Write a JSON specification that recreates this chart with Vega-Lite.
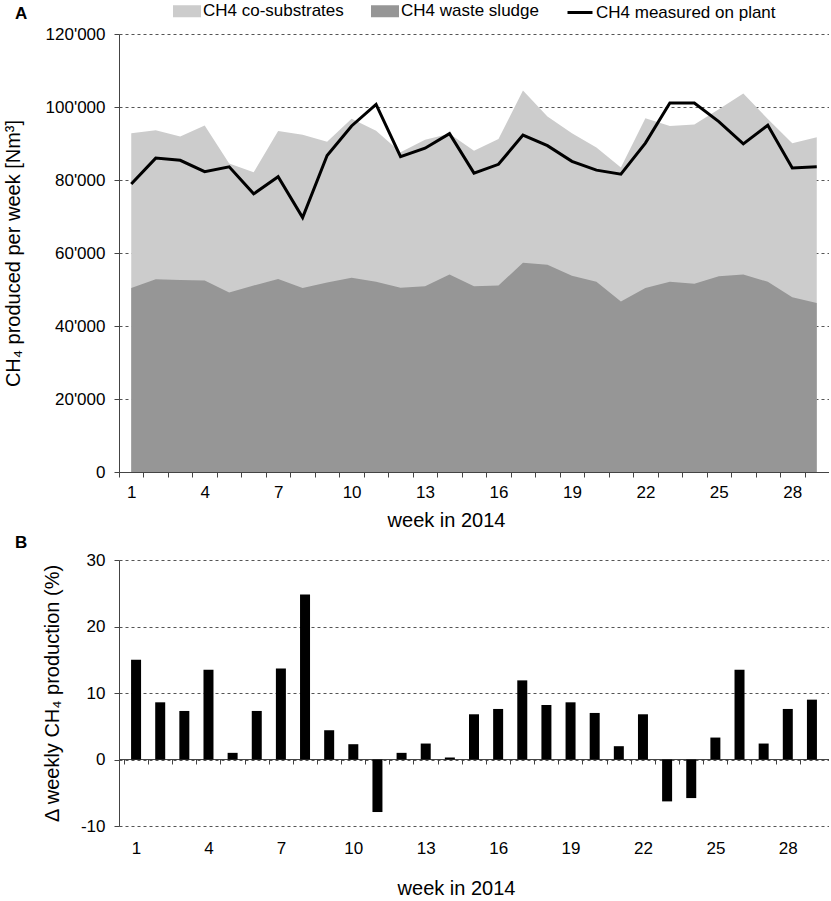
{
  "$schema": "https://vega.github.io/schema/vega-lite/v6.json",
  "padding": {"left": 3, "top": -3, "right": 0, "bottom": 0},
  "config": {
    "font": "Liberation Sans",
    "view": {"stroke": null},
    "axis": {
      "labelFont": "Liberation Sans",
      "titleFont": "Liberation Sans",
      "labelFontSize": 17,
      "titleFontSize": 20,
      "titleFontWeight": "normal",
      "labelColor": "#000",
      "titleColor": "#000",
      "domainColor": "#444",
      "tickColor": "#444",
      "tickSize": 5,
      "gridColor": "#555",
      "gridDash": [3, 3],
      "gridWidth": 1
    },
    "legend": {
      "orient": "none",
      "legendX": 54,
      "legendY": -37,
      "direction": "horizontal",
      "labelFont": "Liberation Sans",
      "labelFontSize": 17,
      "labelColor": "#000",
      "labelLimit": 400,
      "labelOffset": 2,
      "columnPadding": 22,
      "symbolSize": 625
    },
    "title": {"font": "Liberation Sans", "fontSize": 17, "fontWeight": "bold", "color": "#000"}
  },
  "data": {
    "values": [
      {"week": 1, "sludge": 50400, "total": 92800, "measured": 78900, "delta": 15.0},
      {"week": 2, "sludge": 52800, "total": 93600, "measured": 86000, "delta": 8.6},
      {"week": 3, "sludge": 52600, "total": 91900, "measured": 85400, "delta": 7.3},
      {"week": 4, "sludge": 52500, "total": 94900, "measured": 82300, "delta": 13.5},
      {"week": 5, "sludge": 49200, "total": 84500, "measured": 83600, "delta": 1.0},
      {"week": 6, "sludge": 51100, "total": 82100, "measured": 76200, "delta": 7.3},
      {"week": 7, "sludge": 52900, "total": 93400, "measured": 80900, "delta": 13.7},
      {"week": 8, "sludge": 50400, "total": 92400, "measured": 69700, "delta": 24.8},
      {"week": 9, "sludge": 51900, "total": 90500, "measured": 86700, "delta": 4.4},
      {"week": 10, "sludge": 53200, "total": 96800, "measured": 94800, "delta": 2.3},
      {"week": 11, "sludge": 52100, "total": 93500, "measured": 100700, "delta": -7.9},
      {"week": 12, "sludge": 50500, "total": 87600, "measured": 86400, "delta": 1.0},
      {"week": 13, "sludge": 50900, "total": 91000, "measured": 88700, "delta": 2.4},
      {"week": 14, "sludge": 54100, "total": 92700, "measured": 92700, "delta": 0.3},
      {"week": 15, "sludge": 50900, "total": 88000, "measured": 81900, "delta": 6.8},
      {"week": 16, "sludge": 51100, "total": 91200, "measured": 84300, "delta": 7.6},
      {"week": 17, "sludge": 57300, "total": 104500, "measured": 92300, "delta": 11.9},
      {"week": 18, "sludge": 56800, "total": 97400, "measured": 89400, "delta": 8.2},
      {"week": 19, "sludge": 53800, "total": 92800, "measured": 85100, "delta": 8.6},
      {"week": 20, "sludge": 52100, "total": 88900, "measured": 82700, "delta": 7.0},
      {"week": 21, "sludge": 46700, "total": 83400, "measured": 81600, "delta": 2.0},
      {"week": 22, "sludge": 50400, "total": 96900, "measured": 90100, "delta": 6.8},
      {"week": 23, "sludge": 52100, "total": 94800, "measured": 101100, "delta": -6.3},
      {"week": 24, "sludge": 51600, "total": 95200, "measured": 101100, "delta": -5.8},
      {"week": 25, "sludge": 53600, "total": 99400, "measured": 96000, "delta": 3.3},
      {"week": 26, "sludge": 54100, "total": 103700, "measured": 89900, "delta": 13.5},
      {"week": 27, "sludge": 52100, "total": 96700, "measured": 95000, "delta": 2.4},
      {"week": 28, "sludge": 47900, "total": 90100, "measured": 83300, "delta": 7.6},
      {"week": 29, "sludge": 46300, "total": 91700, "measured": 83600, "delta": 9.0}
    ]
  },
  "spacing": 4,
  "vconcat": [
    {
      "title": {"text": "A", "anchor": "start", "frame": "group", "dx": -104, "offset": 2},
      "width": 710,
      "height": 438,
      "encoding": {
        "x": {
          "field": "week",
          "type": "quantitative",
          "scale": {"domain": [0.5, 29.5], "nice": false, "zero": false},
          "axis": {
            "title": "week in 2014",
            "titleX": 327,
            "titleAlign": "center",
            "values": [1, 2, 3, 4, 5, 6, 7, 8, 9, 10, 11, 12, 13, 14, 15, 16, 17, 18, 19, 20, 21, 22, 23, 24, 25, 26, 27, 28, 29, 30],
            "tickOffset": -12.24,
            "labelOffset": 12.24,
            "labelExpr": "(datum.value - 1) % 3 == 0 && datum.value < 29 ? datum.label : ''",
            "labelOverlap": false,
            "labelFlush": false,
            "labelPadding": 7,
            "titlePadding": 10,
            "grid": false
          }
        }
      },
      "layer": [
        {
          "mark": {"type": "area", "opacity": 1},
          "encoding": {
            "y": {
              "field": "total",
              "type": "quantitative",
              "scale": {"domain": [0, 120000], "nice": false},
              "axis": {
                "title": "CH₄ produced per week [Nm³]",
                "values": [0, 20000, 40000, 60000, 80000, 100000, 120000],
                "labelExpr": "datum.value == 0 ? '0' : format(datum.value / 1000, 'd') + \"'000\"",
                "labelPadding": 9,
                "titlePadding": 22,
                "grid": true
              }
            },
            "color": {
              "datum": "CH4 co-substrates",
              "scale": {
                "domain": ["CH4 co-substrates", "CH4 waste sludge", "CH4 measured on plant"],
                "range": ["#cccccc", "#969696", "#000000"]
              },
              "legend": {
                "title": null,
                "encode": {
                  "symbols": {
                    "update": {
                      "shape": {"signal": "datum.value === 'CH4 measured on plant' ? 'M-1,0H1' : 'M-1,-0.36H1V0.36H-1Z'"},
                      "fill": {"signal": "datum.value === 'CH4 co-substrates' ? '#cccccc' : datum.value === 'CH4 waste sludge' ? '#969696' : 'transparent'"},
                      "stroke": {"signal": "datum.value === 'CH4 measured on plant' ? '#000000' : 'transparent'"},
                      "strokeWidth": {"value": 3},
                      "opacity": {"value": 1}
                    }
                  }
                }
              }
            }
          }
        },
        {
          "mark": {"type": "area", "opacity": 1},
          "encoding": {
            "y": {"field": "sludge", "type": "quantitative"},
            "color": {
              "datum": "CH4 waste sludge",
              "legend": {
                "title": null,
                "encode": {
                  "symbols": {
                    "update": {
                      "shape": {"signal": "datum.value === 'CH4 measured on plant' ? 'M-1,0H1' : 'M-1,-0.36H1V0.36H-1Z'"},
                      "fill": {"signal": "datum.value === 'CH4 co-substrates' ? '#cccccc' : datum.value === 'CH4 waste sludge' ? '#969696' : 'transparent'"},
                      "stroke": {"signal": "datum.value === 'CH4 measured on plant' ? '#000000' : 'transparent'"},
                      "strokeWidth": {"value": 3},
                      "opacity": {"value": 1}
                    }
                  }
                }
              }
            }
          }
        },
        {
          "mark": {"type": "line", "strokeWidth": 3},
          "encoding": {
            "y": {"field": "measured", "type": "quantitative"},
            "color": {
              "datum": "CH4 measured on plant",
              "legend": {
                "title": null,
                "encode": {
                  "symbols": {
                    "update": {
                      "shape": {"signal": "datum.value === 'CH4 measured on plant' ? 'M-1,0H1' : 'M-1,-0.36H1V0.36H-1Z'"},
                      "fill": {"signal": "datum.value === 'CH4 co-substrates' ? '#cccccc' : datum.value === 'CH4 waste sludge' ? '#969696' : 'transparent'"},
                      "stroke": {"signal": "datum.value === 'CH4 measured on plant' ? '#000000' : 'transparent'"},
                      "strokeWidth": {"value": 3},
                      "opacity": {"value": 1}
                    }
                  }
                }
              }
            }
          }
        }
      ]
    },
    {
      "title": {"text": "B", "anchor": "start", "frame": "group", "dx": -104, "offset": -1},
      "width": 710,
      "height": 266,
      "mark": {"type": "bar", "size": 10, "color": "#000000"},
      "encoding": {
        "x": {
          "field": "week",
          "type": "quantitative",
          "scale": {"domain": [0.5, 29.5], "nice": false, "zero": false},
          "axis": {
            "title": "week in 2014",
            "titleX": 337,
            "titleAlign": "center",
            "values": [1, 2, 3, 4, 5, 6, 7, 8, 9, 10, 11, 12, 13, 14, 15, 16, 17, 18, 19, 20, 21, 22, 23, 24, 25, 26, 27, 28, 29, 30],
            "tickOffset": -12.24,
            "labelOffset": 12.24,
            "labelExpr": "(datum.value - 1) % 3 == 0 && datum.value < 29 ? datum.label : ''",
            "labelOverlap": false,
            "labelFlush": false,
            "offset": -67,
            "labelPadding": 76,
            "titlePadding": 22,
            "grid": false
          }
        },
        "y": {
          "field": "delta",
          "type": "quantitative",
          "scale": {"domain": [-10, 30], "nice": false},
          "axis": {
            "title": "Δ weekly CH₄ production (%)",
            "values": [-10, 0, 10, 20, 30],
            "labelExpr": "datum.value < 0 ? '-' + format(-datum.value, 'd') : datum.label",
            "labelPadding": 9,
            "titlePadding": 18,
            "grid": true
          }
        }
      }
    }
  ]
}
